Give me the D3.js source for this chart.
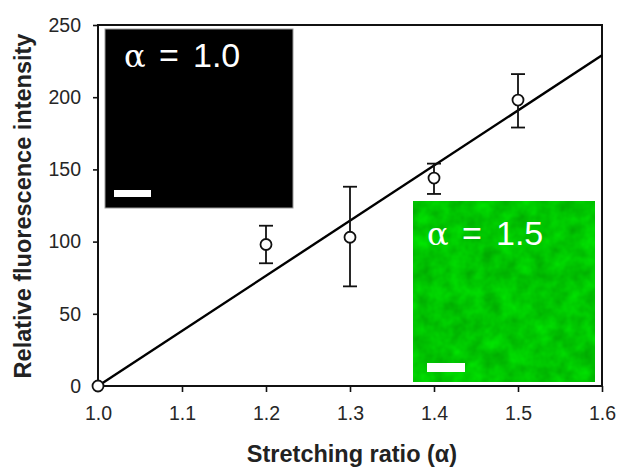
<!DOCTYPE html>
<html><head><meta charset="utf-8">
<script src="https://cdn.jsdelivr.net/npm/d3@7"></script>
<style>body{margin:0;background:#fff}</style>
</head><body>
<svg id="c" width="619" height="468"></svg>
<script>
const ratios = [1.0, 1.2, 1.3, 1.4, 1.5];
const intensity = [0, 98, 103, 144, 198];
const errLow = [0, 85, 69, 133, 179];
const errHigh = [0, 111, 138, 154, 216];
const fitX = [1.0, 1.6];
const fitY = [0, 229];
const xTicks = [1.0, 1.1, 1.2, 1.3, 1.4, 1.5, 1.6];
const yTicks = [0, 50, 100, 150, 200, 250];
const insetValues = ["1.0", "1.5"];

const svg = d3.select("#c");
const L = 98, R = 602, T = 25, B = 386;
const x = d3.scaleLinear().domain([1.0, 1.6]).range([L, R]);
const y = d3.scaleLinear().domain([0, 250]).range([B, T]);
const font = "Arial, 'Liberation Sans', sans-serif";

const defs = svg.append("defs");
const f = defs.append("filter").attr("id", "mottle").attr("x", 0).attr("y", 0).attr("width", 1).attr("height", 1)
  .attr("color-interpolation-filters", "sRGB");
f.append("feTurbulence").attr("type", "fractalNoise").attr("baseFrequency", 0.06).attr("numOctaves", 3).attr("seed", 4).attr("result", "n");
f.append("feColorMatrix").attr("in", "n").attr("type", "matrix")
  .attr("values", "0 0 0 0 0.0  0.3 0 0 0 0.63  0 0 0 0 0.0  0 0 0 0 1").attr("result", "g");
f.append("feComposite").attr("in", "g").attr("in2", "SourceGraphic").attr("operator", "in");

function insetLabel(x0, yb, val) {
  const t = svg.append("text").attr("y", yb).attr("fill", "#fff").attr("font-family", font).attr("font-size", 34);
  t.append("tspan").attr("x", x0).attr("font-family", "'DejaVu Serif', serif").attr("font-size", 32).text("α");
  t.append("tspan").attr("x", x0 + 35).text("=");
  t.append("tspan").attr("x", x0 + 69).text(val);
}

// insets
svg.append("rect").attr("x", 105).attr("y", 29).attr("width", 188).attr("height", 179)
  .attr("fill", "#000").attr("stroke", "#9a9a9a").attr("stroke-width", 1);
insetLabel(124, 67, insetValues[0]);
svg.append("rect").attr("x", 114).attr("y", 190).attr("width", 37).attr("height", 7).attr("fill", "#fff");

svg.append("rect").attr("x", 413).attr("y", 201).attr("width", 182).attr("height", 181)
  .attr("fill", "#00c400").attr("filter", "url(#mottle)");
insetLabel(427, 245, insetValues[1]);
svg.append("rect").attr("x", 427).attr("y", 363).attr("width", 38).attr("height", 9).attr("fill", "#fff");

// frame
svg.append("line").attr("x1", L).attr("x2", R + 1).attr("y1", T).attr("y2", T).attr("stroke", "#111").attr("stroke-width", 2);
svg.append("line").attr("x1", R).attr("x2", R).attr("y1", T).attr("y2", B).attr("stroke", "#111").attr("stroke-width", 2);

// axes
const xa = svg.append("g").attr("transform", `translate(0,${B})`)
  .call(d3.axisBottom(x).tickValues(xTicks).tickFormat(d3.format(".1f")).tickSizeInner(6).tickSizeOuter(0).tickPadding(14));
const ya = svg.append("g").attr("transform", `translate(${L},0)`)
  .call(d3.axisLeft(y).tickValues(yTicks).tickSizeInner(5).tickSizeOuter(0).tickPadding(12));
[xa, ya].forEach(a => {
  a.select(".domain").attr("stroke", "#111").attr("stroke-width", 2);
  a.selectAll(".tick line").attr("stroke", "#111").attr("stroke-width", 1.6);
  a.selectAll("text").attr("font-family", font).attr("font-size", 19.5).attr("fill", "#262626");
});
ya.select(".domain").attr("d", `M0,${B + 1}V${T - 1}`);
xa.select(".domain").attr("d", `M${L - 1},0H${R + 1}`);

// titles
svg.append("text").attr("x", 352).attr("y", 462).attr("text-anchor", "middle")
  .attr("font-family", font).attr("font-size", 23.5).attr("font-weight", "bold").attr("fill", "#222")
  .text("Stretching ratio (α)");
svg.append("text").attr("transform", "translate(31,206) rotate(-90)").attr("text-anchor", "middle")
  .attr("font-family", font).attr("font-size", 23.5).attr("font-weight", "bold").attr("fill", "#222")
  .text("Relative fluorescence intensity");

// fit line
svg.append("path").datum(fitX.map((d, i) => [d, fitY[i]]))
  .attr("d", d3.line().x(d => x(d[0])).y(d => y(d[1])))
  .attr("fill", "none").attr("stroke", "#000").attr("stroke-width", 2.4);

// error bars
const pts = ratios.map((r, i) => ({ r, v: intensity[i], lo: errLow[i], hi: errHigh[i] })).filter(d => d.hi > d.lo);
const eb = svg.append("g").attr("stroke", "#111").attr("stroke-width", 1.8);
eb.selectAll(".v").data(pts).join("line").attr("x1", d => x(d.r)).attr("x2", d => x(d.r)).attr("y1", d => y(d.lo)).attr("y2", d => y(d.hi));
eb.selectAll(".t").data(pts).join("line").attr("x1", d => x(d.r) - 7).attr("x2", d => x(d.r) + 7).attr("y1", d => y(d.hi)).attr("y2", d => y(d.hi));
eb.selectAll(".b").data(pts).join("line").attr("x1", d => x(d.r) - 7).attr("x2", d => x(d.r) + 7).attr("y1", d => y(d.lo)).attr("y2", d => y(d.lo));

svg.append("g").selectAll("circle").data(ratios).join("circle")
  .attr("cx", d => x(d)).attr("cy", (d, i) => y(intensity[i])).attr("r", 5.5)
  .attr("fill", "#fff").attr("stroke", "#111").attr("stroke-width", 1.8);
</script>
</body></html>
